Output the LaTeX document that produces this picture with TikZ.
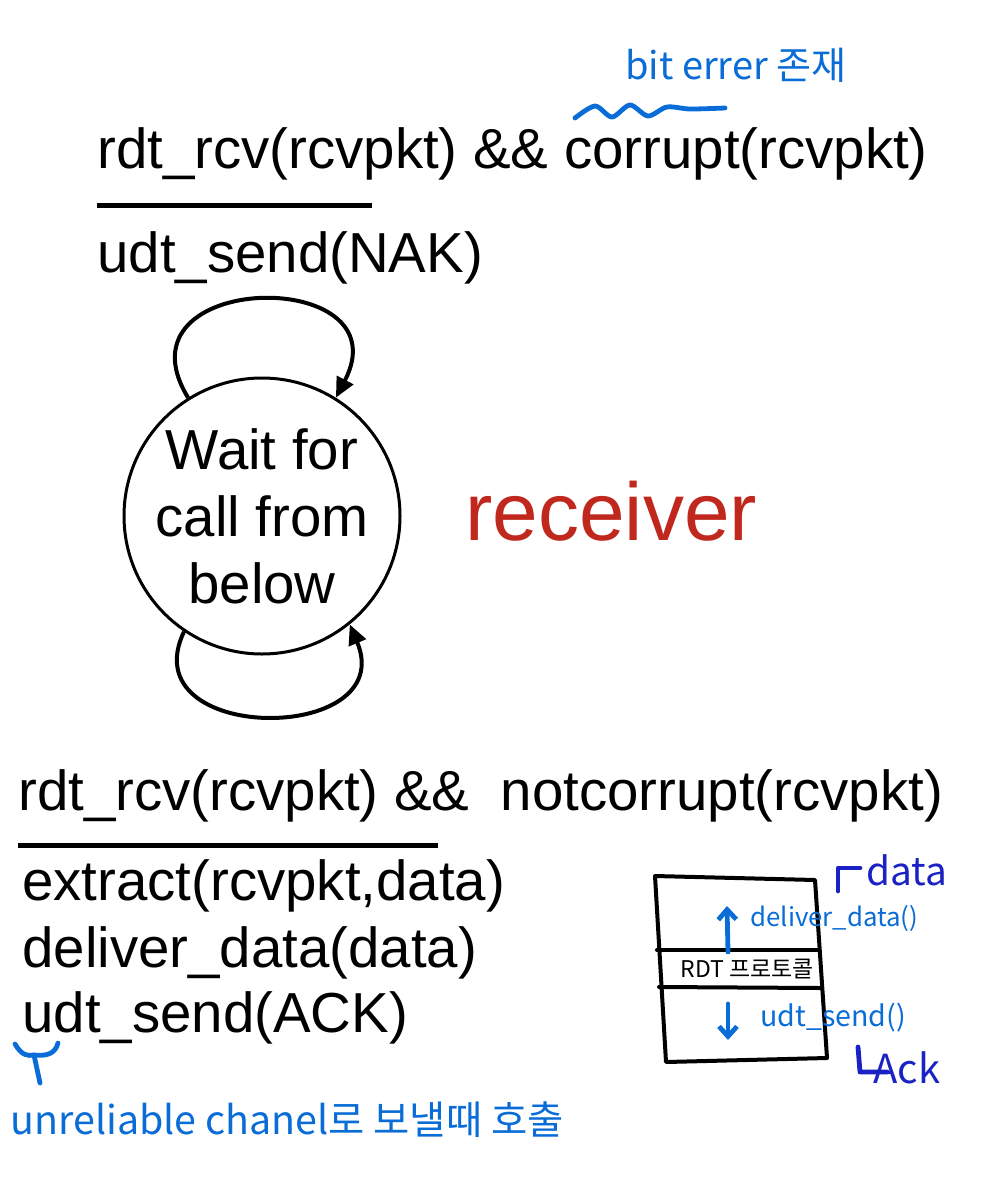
\documentclass[tikz,border=0pt]{standalone}
\usepackage{fontspec}
\setmainfont{Liberation Sans}
\newfontfamily\krfont{Noto Sans CJK KR}
\usepackage{tikz}
\usetikzlibrary{arrows.meta}
\definecolor{penblue}{HTML}{0A6CD6}
\definecolor{inkblue}{HTML}{1B22C4}
\definecolor{rcvred}{HTML}{C0281E}

\begin{document}
\begin{tikzpicture}[x=0.5pt,y=-0.5pt,
  fsm/.style={font=\fontsize{28.2}{33.5}\selectfont,inner sep=0pt,anchor=base west},
  rule/.style={line width=2.5pt},
  selfloop/.style={line width=2pt,-{Triangle[length=10pt,width=9pt]}},
  hand/.style={color=penblue,line width=2.4pt,line cap=round,line join=round},
  note/.style={font=\krfont\fontsize{19}{21}\selectfont,text=penblue,inner sep=0pt,anchor=west},
  boxline/.style={line width=2pt,line join=round,line cap=round}]
\useasboundingbox (0,0) rectangle (1000,1177);
% transition on corrupt packet
\node[fsm](corrupt)at(97,168){rdt\_rcv(rcvpkt) \&\& corrupt(rcvpkt)};
\draw[rule](97,205)--(372,205);
\node[fsm](sendnak)at(97,272){udt\_send(NAK)};
% state
\node[draw,circle,line width=1.5pt,minimum size=138pt,inner sep=0pt,align=center,
  font=\fontsize{28.2}{33.5}\selectfont](wait)at(262,516){Wait for\\call from\\below};
\draw[selfloop](wait.122)..controls(110,270)and(405,265)..(wait.58);
\draw[selfloop](wait.-124)..controls(130,745)and(400,745)..(wait.-51);
\node[fsm,font=\fontsize{41}{48}\selectfont,text=rcvred](receiver)at(465,540){receiver};
% transition on good packet
\node[fsm](notcorrupt)at(18,810){rdt\_rcv(rcvpkt) \&\&\ \ notcorrupt(rcvpkt)};
\draw[rule](18,845)--(438,845);
\node[fsm](extract)at(22,900){extract(rcvpkt,data)};
\node[fsm](deliver)at(22,967){deliver\_data(data)};
\node[fsm](sendack)at(22,1032){udt\_send(ACK)};
% handwritten notes
\node[note](biterr)at(625,65){bit errer 존재};
\draw[hand]plot[smooth]coordinates{(575,118)(595,106)(612,117)(630,105)(648,116)(667,107)(690,109)(725,108)};
\draw[hand](15,1044)..controls(22,1056)and(28,1056)..(34,1055)..controls(45,1056)and(55,1055)..(58,1043);
\draw[hand](34,1055)--(40,1083);
\node[note,font=\krfont\fontsize{19.7}{22}\selectfont](unrel)at(10,1120){unreliable chanel로 보낼때 호출};
% layer box
\draw[boxline](655,876)--(815,880)--(827,1058)--(666,1062)--cycle;
\draw[boxline](657,950)--(818,950);
\draw[boxline](659,987)--(820,988);
\node[font=\krfont\fontsize{11.5}{12}\selectfont,inner sep=0pt,anchor=west](rdt)at(680,969){RDT 프로토콜};
\coordinate(upfrom)at(728,952);
\coordinate(upto)at(727,906);
\draw[hand,-{Straight Barb[length=5pt,width=9pt]}](upfrom)--(upto);
\node[note,font=\krfont\fontsize{12.9}{14}\selectfont](delnote)at(750,918){deliver\_data()};
\coordinate(dnfrom)at(728,1004);
\coordinate(dnto)at(728,1040);
\draw[hand,-{Straight Barb[length=5pt,width=9pt]}](dnfrom)--(dnto);
\node[note,font=\krfont\fontsize{14.3}{15}\selectfont](udtnote)at(760,1018){udt\_send()};
\draw[hand,color=inkblue](838,891)--(838,868)--(860,868);
\node[note,text=inkblue,font=\krfont\fontsize{19.4}{21}\selectfont](datanote)at(866,870){data};
\draw[hand,color=inkblue](858,1047)--(860,1072)--(887,1072);
\node[note,text=inkblue,font=\krfont\fontsize{20}{22}\selectfont](acknote)at(873,1068){Ack};
\end{tikzpicture}
\end{document}
